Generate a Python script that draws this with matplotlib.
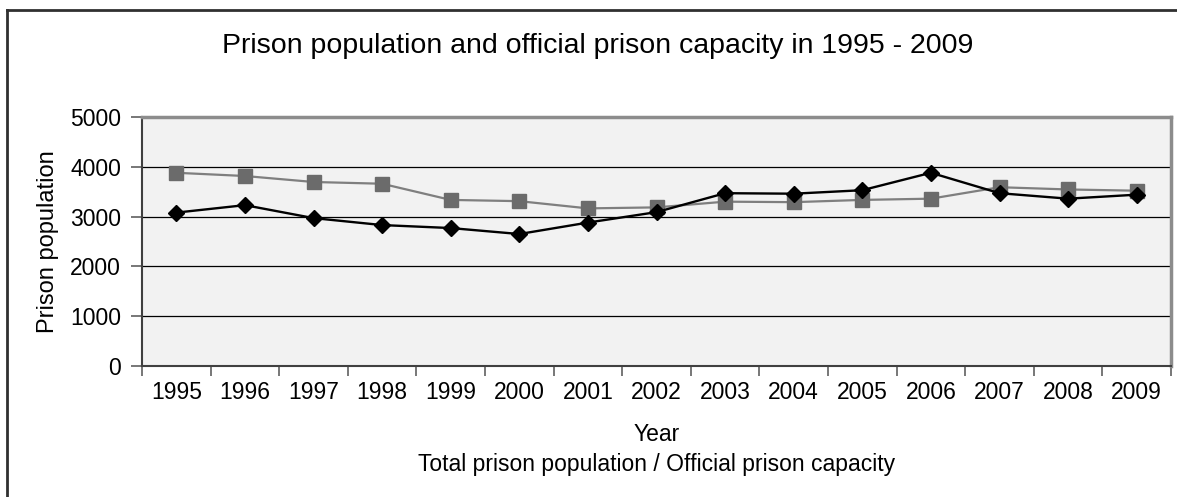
import matplotlib.pyplot as plt
from matplotlib.lines import Line2D

years = ["1995", "1996", "1997", "1998", "1999", "2000", "2001", "2002",
         "2003", "2004", "2005", "2006", "2007", "2008", "2009"]
total_population = [3080, 3230, 2970, 2830, 2770, 2650, 2880, 3090,
                    3470, 3460, 3530, 3880, 3470, 3360, 3440]
official_capacity = [3880, 3815, 3695, 3660, 3335, 3310, 3165, 3185,
                     3300, 3290, 3335, 3360, 3590, 3545, 3520]

plt.rcParams['font.family'] = ['Liberation Sans', 'DejaVu Sans']

W, H = 1177, 497
fig = plt.figure(figsize=(W / 100, H / 100), dpi=100, facecolor='white')
ax = fig.add_axes([142 / W, 1 - 366 / H, (1171 - 142) / W, (366 - 117) / H])
ax.set_facecolor('#f2f2f2')

x = list(range(len(years)))
ax.plot(x, official_capacity, color='#7f7f7f', lw=1.6, marker='s', ms=10,
        mfc='#6b6b6b', mec='#6b6b6b', zorder=3)
ax.plot(x, total_population, color='black', lw=1.7, marker='D', ms=8.5,
        mfc='black', mec='black', zorder=4)

ax.set_xlim(-0.5, len(years) - 0.5)
ax.set_ylim(0, 5000)
ax.set_yticks(range(0, 5001, 1000))
ax.yaxis.grid(True, color='black', lw=0.9)
ax.set_axisbelow(True)

# category ticks between years, labels centred under points
ax.set_xticks([i - 0.5 for i in range(len(years) + 1)])
ax.set_xticklabels([])
ax.set_xticks(x, minor=True)
ax.set_xticklabels(years, minor=True)
ax.tick_params(axis='x', which='major', length=7, width=1.2, color='#606060', direction='out')
ax.tick_params(axis='x', which='minor', length=0, labelsize=16.5, pad=11)
ax.tick_params(axis='y', length=8, width=1.2, color='#606060', labelsize=16.5, pad=7)

for side in ['top', 'right']:
    ax.spines[side].set_color('#8c8c8c')
    ax.spines[side].set_linewidth(2.5)
for side in ['left', 'bottom']:
    ax.spines[side].set_color('#404040')
    ax.spines[side].set_linewidth(1.5)

fig.text(48 / W, 1 - 242 / H, 'Prison population', rotation=90,
         ha='center', va='center', fontsize=17)
fig.text(598 / W, 1 - 53 / H, 'Prison population and official prison capacity in 1995 - 2009',
         ha='center', va='baseline', fontsize=20.5)
fig.text(657 / W, 1 - 441 / H, 'Year', ha='center', va='baseline', fontsize=16.5)
fig.text(657 / W, 1 - 471 / H, 'Total prison population / Official prison capacity',
         ha='center', va='baseline', fontsize=16.5)

# outer chart frame (top and left edges)
fig.add_artist(Line2D([7 / W, 1], [1 - 10 / H, 1 - 10 / H], transform=fig.transFigure,
                      color='#303030', lw=2))
fig.add_artist(Line2D([7 / W, 7 / W], [0, 1 - 10 / H], transform=fig.transFigure,
                      color='#303030', lw=2))

fig.savefig('out.png', dpi=100, facecolor='white')
